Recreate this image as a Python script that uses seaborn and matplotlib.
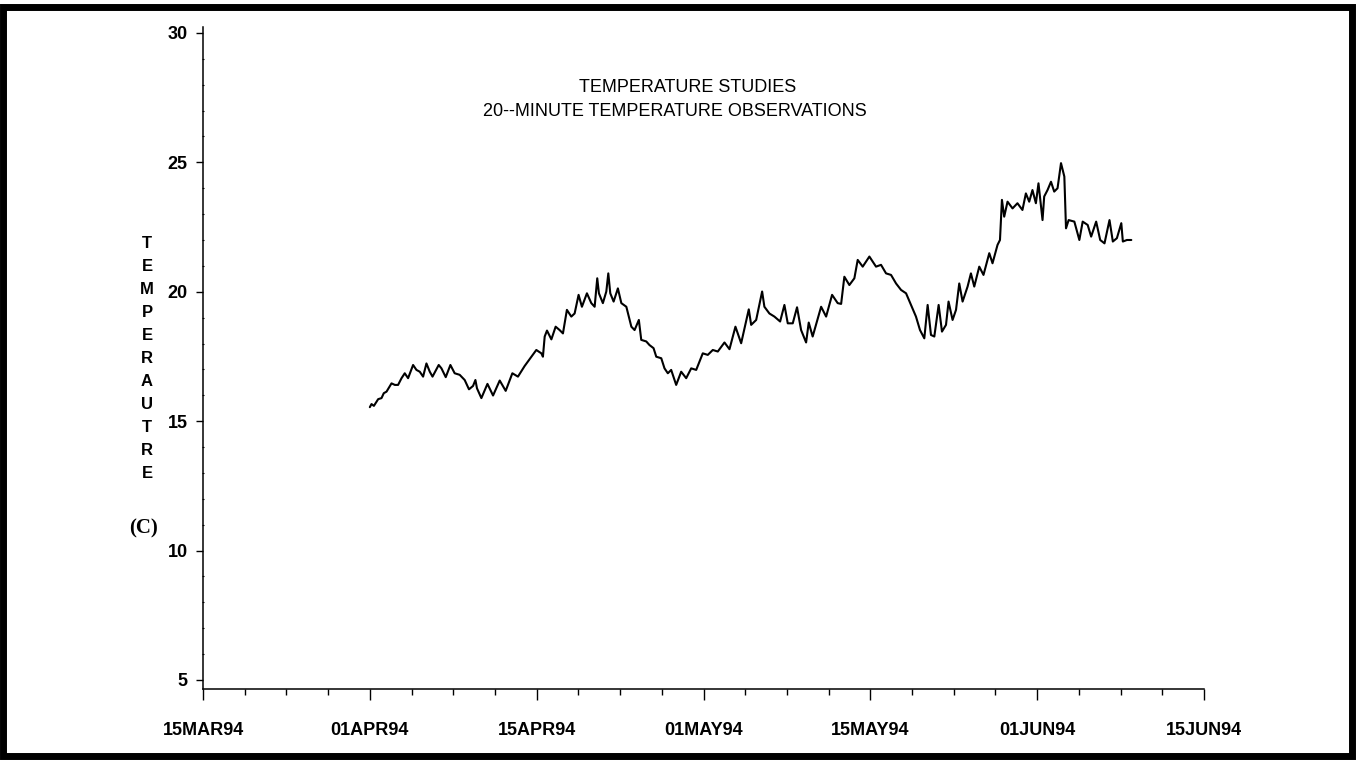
import numpy as np
import pandas as pd
import matplotlib
matplotlib.use('Agg')
import matplotlib.pyplot as plt
import matplotlib.dates as mdates
from matplotlib.patches import Rectangle
from matplotlib.ticker import FixedLocator, NullFormatter
import seaborn as sns

# readings: days since 01APR94 and temperature (C)
start_date = '1994-04-01'
day_offset = [
    0.00, 0.14, 0.34, 0.70, 0.98, 1.17, 1.40, 1.82, 2.10, 2.37,
    2.66, 2.93, 3.21, 3.63, 3.91, 4.19, 4.47, 4.75, 5.03, 5.26,
    5.78, 6.01, 6.37, 6.76, 7.12, 7.54, 7.96, 8.32, 8.66, 8.86,
    8.99, 9.36, 9.87, 10.34, 10.90, 11.40, 11.96, 12.43, 12.99, 13.97,
    14.45, 14.60, 14.77, 14.99, 15.41, 15.82, 16.20, 16.52, 16.90, 17.32,
    17.64, 18.02, 18.34, 18.82, 19.24, 19.56, 19.81, 19.97, 20.35, 20.68,
    20.87, 21.06, 21.38, 21.79, 22.12, 22.60, 23.08, 23.39, 23.80, 24.03,
    24.51, 24.82, 25.21, 25.47, 25.95, 26.26, 26.58, 26.90, 27.38, 27.86,
    28.34, 28.82, 29.30, 29.93, 30.36, 30.78, 31.20, 31.76, 32.18, 32.68,
    33.16, 33.80, 34.00, 34.42, 34.92, 35.11, 35.53, 35.95, 36.43, 36.79,
    37.07, 37.49, 37.85, 38.19, 38.61, 38.83, 39.16, 39.87, 40.29, 40.79,
    41.26, 41.55, 41.82, 42.24, 42.66, 42.94, 43.36, 43.92, 44.58, 45.09,
    45.60, 46.11, 46.62, 47.13, 47.64, 48.14, 48.65, 49.06, 49.50, 49.84,
    50.18, 50.52, 50.96, 51.30, 51.71, 51.97, 52.38, 52.73, 53.06, 53.40,
    53.91, 54.25, 54.59, 55.10, 55.53, 56.12, 56.45, 56.96, 57.21, 57.41,
    57.64, 57.98, 58.49, 58.99, 59.50, 59.85, 60.19, 60.52, 60.87, 61.11,
    61.45, 61.59, 61.87, 62.16, 62.43, 62.71, 63.00, 63.28, 63.42, 63.64,
    64.12, 64.54, 64.82, 65.24, 65.53, 65.95, 66.29, 66.65, 67.07, 67.35,
    67.69, 68.06, 68.19, 68.53, 68.90,
]
temp_c = [
    15.54, 15.66, 15.59, 15.85, 15.89, 16.08, 16.14, 16.46, 16.40, 16.40,
    16.66, 16.85, 16.66, 17.17, 16.98, 16.91, 16.72, 17.23, 16.91, 16.72,
    17.17, 17.04, 16.70, 17.17, 16.85, 16.79, 16.59, 16.23, 16.36, 16.59,
    16.27, 15.89, 16.44, 15.99, 16.57, 16.17, 16.85, 16.72, 17.13, 17.75,
    17.62, 17.49, 18.27, 18.50, 18.16, 18.65, 18.52, 18.39, 19.30, 19.04,
    19.16, 19.88, 19.42, 19.94, 19.56, 19.42, 20.52, 19.94, 19.56, 20.01,
    20.71, 19.94, 19.62, 20.13, 19.56, 19.42, 18.65, 18.52, 18.91, 18.14,
    18.08, 17.94, 17.82, 17.49, 17.43, 17.04, 16.85, 16.98, 16.40, 16.91,
    16.66, 17.04, 16.98, 17.62, 17.56, 17.75, 17.69, 18.04, 17.78, 18.65,
    18.01, 19.32, 18.72, 18.91, 20.01, 19.42, 19.16, 19.04, 18.85, 19.49,
    18.78, 18.78, 19.40, 18.52, 18.04, 18.81, 18.27, 19.42, 19.04, 19.88,
    19.56, 19.53, 20.58, 20.26, 20.52, 21.23, 20.97, 21.36, 20.97, 21.04,
    20.71, 20.65, 20.32, 20.07, 19.94, 19.49, 19.04, 18.52, 18.20, 19.49,
    18.33, 18.27, 19.49, 18.46, 18.72, 19.62, 18.91, 19.30, 20.32, 19.62,
    20.20, 20.71, 20.20, 20.97, 20.65, 21.49, 21.10, 21.81, 22.00, 23.55,
    22.90, 23.48, 23.22, 23.42, 23.16, 23.80, 23.48, 23.93, 23.42, 24.19,
    22.77, 23.68, 23.93, 24.25, 23.87, 24.00, 24.97, 24.45, 22.45, 22.77,
    22.71, 22.00, 22.71, 22.58, 22.13, 22.71, 22.00, 21.87, 22.77, 21.94,
    22.07, 22.65, 21.94, 22.00, 22.00,
]

tick_dates = ['1994-03-15', '1994-04-01', '1994-04-15', '1994-05-01',
              '1994-05-15', '1994-06-01', '1994-06-15']
tick_labels = ['15MAR94', '01APR94', '15APR94', '01MAY94',
               '15MAY94', '01JUN94', '15JUN94']
y_ticks = [5, 10, 15, 20, 25, 30]
title_lines = ['TEMPERATURE STUDIES', '20--MINUTE TEMPERATURE OBSERVATIONS']
ylabel_text = 'TEMPERAUTRE'
unit_text = '(C)'

sns.set_style('ticks')
plt.rcParams['font.family'] = ['Liberation Sans', 'DejaVu Sans']
plt.rcParams['text.color'] = 'black'

df = pd.DataFrame({
    'time': pd.Timestamp(start_date) + pd.to_timedelta(day_offset, unit='D'),
    'temp': temp_c,
})

W, H = 1356, 764
fig = plt.figure(figsize=(W / 100, H / 100), dpi=100)
ax = fig.add_axes([203 / W, 75 / H, (1204 - 203) / W, (689 - 27) / H])

sns.lineplot(data=df, x='time', y='temp', color='black', lw=1.5, ax=ax)

# SAS puts the semimonth ticks at equal spacing -> piecewise linear date axis
knots = mdates.date2num(pd.to_datetime(tick_dates))
knot_x = np.concatenate([[knots[0] - 1400], knots, [knots[-1] + 1400]])
knot_i = np.concatenate([[-100], np.arange(len(knots)), [len(knots) - 1 + 100]])


def fwd(x):
    return np.interp(x, knot_x, knot_i)


def inv(i):
    return np.interp(i, knot_i, knot_x)


ax.set_xscale('function', functions=(fwd, inv))
ax.set_xlim(knots[0], knots[-1])
ax.set_xticks(knots, labels=tick_labels, fontweight='bold', fontsize=13)
ax.xaxis.set_minor_locator(FixedLocator(inv(np.arange(0, len(knots) - 1, 0.25))))
ax.xaxis.set_minor_formatter(NullFormatter())

ax.set_ylim(4.65, 30.23)
ax.set_yticks(y_ticks, labels=[str(v) for v in y_ticks], fontweight='bold', fontsize=13)
ax.yaxis.set_minor_locator(FixedLocator(np.arange(5, 31)))

ax.set_xlabel('')
ax.set_ylabel('')
sns.despine(ax=ax)
for s in ['left', 'bottom']:
    ax.spines[s].set_linewidth(1.1)
    ax.spines[s].set_color('black')

ax.tick_params(axis='x', which='major', length=8, width=1, pad=16, colors='black')
ax.tick_params(axis='x', which='minor', length=4, width=1, colors='black')
ax.tick_params(axis='y', which='major', length=5, width=1, pad=6, colors='black')
ax.tick_params(axis='y', which='minor', length=2, width=0.8, direction='inout', colors='black')

# titles sit inside the plot area
fig.text(688 / W, 1 - 88 / H, title_lines[0], ha='center', va='center',
         fontsize=13, color='black')
fig.text(675 / W, 1 - 112 / H, title_lines[1], ha='center', va='center',
         fontsize=13, color='black')

# stacked y-axis label
for i, ch in enumerate(ylabel_text):
    fig.text(147 / W, 1 - (243 + 23.1 * i) / H, ch, ha='center', va='center',
             fontsize=12, fontweight='bold', color='black')
fig.text(143 / W, 1 - 528 / H, unit_text, ha='center', va='center',
         family='Liberation Serif', fontsize=15, fontweight='bold', color='black')

# thick frame around the page
fig.add_artist(Rectangle((3 / W, 8 / H), (1352 - 3) / W, (756 - 7) / H,
                         transform=fig.transFigure, fill=False, lw=5, ec='black'))

fig.savefig('out.png', dpi=100)
